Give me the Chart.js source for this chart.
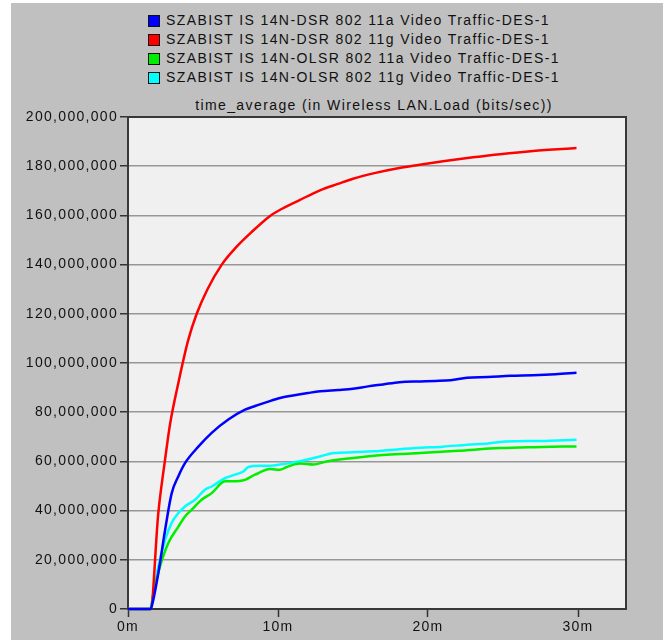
<!DOCTYPE html>
<html>
<head>
<meta charset="utf-8">
<script src="https://cdn.jsdelivr.net/npm/chart.js@4/dist/chart.umd.min.js"></script>
<style>
    body { margin: 0; background: #fff; }
    #panel { position: absolute; left: 11px; top: 3px; width: 652px; height: 637px; background: #c0c0c0; }
    #legend { position: absolute; left: 137px; top: 8px; font: 14px "Liberation Sans", Arial, sans-serif; letter-spacing: 1.4px; color: #111; }
    .row { height: 19px; line-height: 19px; display: flex; align-items: center; white-space: nowrap; }
    .box { width: 10px; height: 10px; border: 1px solid #111; margin-right: 6px; }
    #title { position: absolute; left: 163px; width: 400px; top: 94px; line-height: 18px; text-align: center;
             font: 14px "Liberation Sans", Arial, sans-serif; letter-spacing: 1.4px; color: #111; }
    #chart { position: absolute; left: 0; top: 0; }
</style>
</head>
<body>
<div id="panel">
    <div id="legend"></div>
    <div id="title"></div>
    <canvas id="chart" width="652" height="637"></canvas>
</div>
<script>
// --- series (time in minutes, load in millions of bits/sec) ---
const seriesNames = [
    'SZABIST IS 14N-DSR 802 11a Video Traffic-DES-1',
    'SZABIST IS 14N-DSR 802 11g Video Traffic-DES-1',
    'SZABIST IS 14N-OLSR 802 11a Video Traffic-DES-1',
    'SZABIST IS 14N-OLSR 802 11g Video Traffic-DES-1'
];
const seriesColors = ['#0000ff', '#ff0000', '#00ee00', '#00ffff'];

const dsr11aTime = [0, 1.5, 1.58, 2.02, 2.47, 2.91, 3.36, 3.8, 4.69, 5.58, 6.69, 7.8, 8.47, 9.2, 10.13, 11, 12, 12.8, 14, 15, 16, 17, 18.1, 19.5, 20.5, 21.5, 22.6, 24, 25.5, 27, 28.5, 29.9];
const dsr11aLoad = [0, 0, 1, 14.5, 32, 47, 54, 59.3, 66, 71.6, 77, 81, 82.5, 84, 85.8, 86.8, 87.8, 88.5, 89, 89.5, 90.5, 91.3, 92.2, 92.5, 92.7, 93, 94, 94.3, 94.8, 95, 95.4, 96];

const dsr11gTime = [0, 1.5, 2.02, 2.47, 2.8, 3.36, 4.0, 4.58, 5.3, 6.25, 7.2, 8.2, 9.47, 10, 11.47, 12.8, 14, 15, 16.5, 18, 19.25, 21, 23, 24.8, 27, 29.9];
const dsr11gLoad = [0, 0, 39, 60.7, 75, 92, 109, 120, 130, 140, 147, 153, 159.8, 161.8, 166.3, 170.2, 172.8, 174.9, 177.3, 179.2, 180.4, 182, 183.6, 184.9, 186.2, 187.4];

const olsr11aTime = [0, 1.5, 1.69, 2.13, 2.69, 3.36, 3.8, 4.24, 4.91, 5.58, 6.47, 6.91, 7.8, 8.47, 9.47, 10.13, 10.58, 11.47, 12.36, 13.24, 15.02, 17.24, 19.47, 22, 24.8, 27, 29.9];
const olsr11aLoad = [0, 0, 6.4, 17.2, 26.8, 33.5, 37.6, 40.3, 44.4, 47.1, 51.9, 51.9, 52.5, 54.6, 56.9, 56.6, 57.7, 59.1, 58.7, 60, 61.4, 62.7, 63.4, 64.3, 65.4, 65.8, 66.1];

const olsr11gTime = [0, 1.5, 1.58, 2.02, 2.47, 2.91, 3.36, 3.8, 4.47, 5.13, 5.58, 6.47, 7.13, 7.69, 8.02, 8.8, 9.47, 10.13, 11.02, 11.91, 12.8, 13.69, 15.02, 16.36, 17.24, 19.47, 21, 22.6, 24, 25.2, 27.5, 29.9];
const olsr11gLoad = [0, 0, 2.3, 17.2, 28, 35, 39, 41.7, 44.4, 48.5, 49.8, 53.2, 54.6, 55.9, 57.7, 58.2, 58.2, 58.7, 59.6, 60.7, 62, 63.4, 63.7, 64.1, 64.5, 65.5, 66, 66.8, 67.3, 68.1, 68.3, 68.8];

const timeTicks = [0, 10, 20, 30];
const loadTicks = [0, 20, 40, 60, 80, 100, 120, 140, 160, 180, 200]; // millions

const titleText = 'time_average (in Wireless LAN.Load (bits/sec))';

// --- legend + title (html) ---
const legendEl = document.getElementById('legend');
seriesNames.forEach((name, i) => {
    const row = document.createElement('div');
    row.className = 'row';
    row.innerHTML = '<span class="box" style="background:' + seriesColors[i] + '"></span><span>' + name + '</span>';
    legendEl.appendChild(row);
});
document.getElementById('title').textContent = titleText;

function toPoints(times, loads) {
    return times.map((t, i) => ({ x: t, y: loads[i] * 1e6 }));
}
const allTimes = [dsr11aTime, dsr11gTime, olsr11aTime, olsr11gTime];
const allLoads = [dsr11aLoad, dsr11gLoad, olsr11aLoad, olsr11gLoad];

// plot background + frame like the OPNET panel
const plotFrame = {
    id: 'plotFrame',
    beforeLayout(chart) { chart.ctx.letterSpacing = '1.3px'; },
    beforeDraw(chart) {
        const { ctx, chartArea: a } = chart;
        ctx.letterSpacing = '1.3px';
        ctx.save();
        ctx.fillStyle = '#f0f0f0';
        ctx.fillRect(a.left, a.top, a.right - a.left, a.bottom - a.top);
        ctx.restore();
    },
    beforeDatasetsDraw(chart) {
        const { ctx, chartArea: a } = chart;
        ctx.save();
        ctx.strokeStyle = '#383838';
        ctx.lineWidth = 2;
        ctx.strokeRect(a.left, a.top, a.right - a.left, a.bottom - a.top);
        ctx.restore();
    }
};

const tickFont = { family: '"Liberation Sans", Arial, sans-serif', size: 14 };

new Chart(document.getElementById('chart'), {
    type: 'line',
    data: {
        datasets: seriesNames.map((name, i) => ({
            label: name,
            data: toPoints(allTimes[i], allLoads[i]),
            borderColor: seriesColors[i],
            backgroundColor: seriesColors[i],
            borderWidth: 2.5,
            pointRadius: 0,
            cubicInterpolationMode: 'monotone',
            clip: false
        }))
    },
    options: {
        responsive: false,
        animation: false,
        layout: { padding: { top: 114, right: 37, left: 0, bottom: 0 } },
        plugins: {
            legend: { display: false },
            tooltip: { enabled: false }
        },
        scales: {
            x: {
                type: 'linear',
                min: 0,
                max: 33.2,
                afterBuildTicks: (s) => { s.ticks = timeTicks.map(v => ({ value: v })); },
                ticks: { callback: (v) => v + 'm', font: tickFont, color: '#111', padding: 2, maxRotation: 0 },
                grid: { drawOnChartArea: false, tickLength: 8, tickColor: '#333', tickWidth: 1.5 },
                border: { display: false },
                afterFit: (s) => { s.height = 31; }
            },
            y: {
                min: 0,
                max: 200e6,
                afterBuildTicks: (s) => { s.ticks = loadTicks.map(v => ({ value: v * 1e6 })); },
                ticks: { callback: (v) => v.toLocaleString('en-US'), font: tickFont, color: '#111', padding: 2 },
                grid: { color: '#979797', lineWidth: 1.5, tickLength: 8, tickColor: '#333', tickWidth: 1.5 },
                border: { display: false },
                afterFit: (s) => { s.width = 117; }
            }
        }
    },
    plugins: [plotFrame]
});
</script>
</body>
</html>
